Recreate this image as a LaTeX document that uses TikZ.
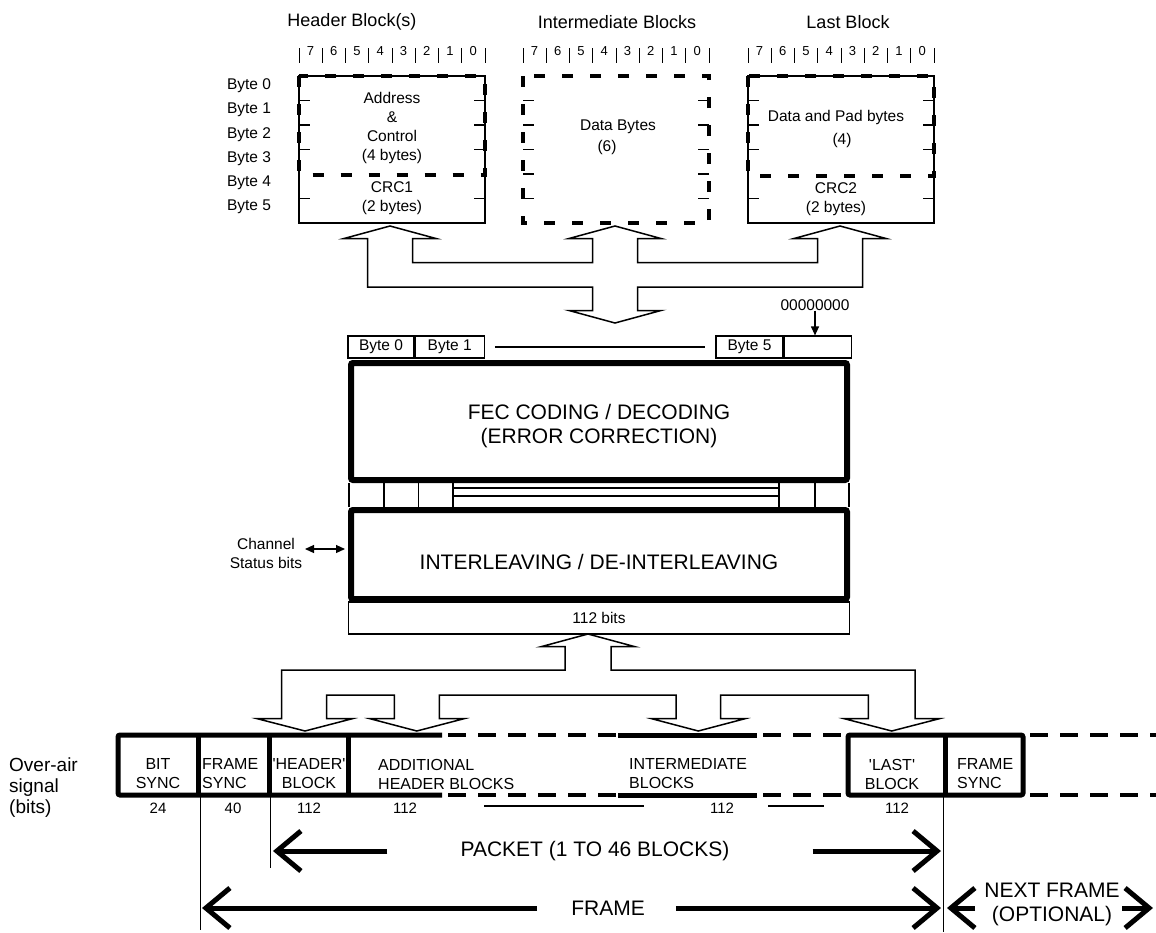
\documentclass[tikz,border=0pt]{standalone}
\usepackage{fontspec}
\setmainfont{Liberation Sans}
\usetikzlibrary{arrows.meta}
\begin{document}
\begin{tikzpicture}[x=1pt,y=-1pt,>={Triangle[length=9pt,width=8pt]},
  every node/.style={font=\fontsize{15.5}{19}\selectfont,inner sep=0pt},
  title/.style={font=\fontsize{18}{22}\selectfont},
  bitno/.style={font=\fontsize{13}{15}\selectfont},
  numlbl/.style={font=\fontsize{15}{17}\selectfont},
  sigtxt/.style={font=\fontsize{16}{19}\selectfont},
  bignote/.style={font=\fontsize{21}{24}\selectfont,align=center},
  cell/.style={draw,line width=1.2pt,minimum height=22pt},
  heavybox/.style={draw,line width=6pt,rounded corners=2pt},
  fine/.style={line width=1.2pt},
  bus/.style={line width=1.5pt,line join=miter},
  dashbold/.style={line width=4pt,dash pattern=on 11pt off 17pt},
  sigline/.style={line width=5pt,rounded corners=2pt},
  sigdash/.style={line width=4.5pt,dash pattern=on 18pt off 12pt},
  span/.style={line width=5pt,>={Straight Barb[length=24pt,width=40pt]}}]
\useasboundingbox (0,0) rectangle (1156,932);

% block titles and bit numbers
\node[title] (hbttl) at (352,22) {Header Block(s)};
\node[title] (ibttl) at (617,22) {Intermediate Blocks};
\node[title] (lbttl) at (848,22) {Last Block};
\foreach \bx/\nm in {299/hb,523/ib,748/lb}{
  \foreach \i in {0,...,7}{
    \pgfmathtruncatemacro\bit{7-\i}
    \node[bitno] (\nm-bit\i) at ({\bx+11.6+23.25*\i},51) {\bit};
  }
  \foreach \i in {0,...,8}
    \draw[line width=1pt] ({\bx+23.25*\i},48) -- ++(0,15);
}

% byte numbers
\foreach \k in {0,...,5}
  \node (byte\k) at (249,{86+24.1*\k}) {Byte \k};

% header block
\draw[fine] (299,76) rectangle (485,223);
\draw[dashbold] (299,76) rectangle (485,174.5);
\foreach \y in {100.5,125,149.5,198.5}{
  \draw[fine] (299,\y) -- ++(11,0);
  \draw[fine] (485,\y) -- ++(-11,0);
}
\node[align=center] (addr) at (392,128) {Address\\\&\\Control\\(4 bytes)};
\node[align=center] (crc1) at (392,198) {CRC1\\(2 bytes)};

% intermediate block
\draw[dashbold] (523,76) rectangle (709,223);
\foreach \y in {100.5,125,149.5,174,198.5}{
  \draw[fine] (523,\y) -- ++(11,0);
  \draw[fine] (709,\y) -- ++(-11,0);
}
\node (data) at (618,127) {Data Bytes};
\node (six) at (607,147) {(6)};

% last block
\draw[fine] (748,76) rectangle (934,223);
\draw[dashbold] (748,76) rectangle (934,176);
\foreach \y in {100.5,125,149.5,198.5}{
  \draw[fine] (748,\y) -- ++(11,0);
  \draw[fine] (934,\y) -- ++(-11,0);
}
\node (pad) at (836,117) {Data and Pad bytes};
\node (four) at (842,140) {(4)};
\node[align=center] (crc2) at (836,199.5) {CRC2\\(2 bytes)};

% upper bus
\draw[bus] (592.5,310.5) -- (592.5,287) -- (367.5,287) -- (367.5,238.5)
  -- (344,238.5) -- (390,226) -- (436,238.5) -- (412.5,238.5) -- (412.5,262.5)
  -- (592.5,262.5) -- (592.5,238.5) -- (569,238.5) -- (615,226) -- (661,238.5)
  -- (637.5,238.5) -- (637.5,262.5) -- (817.5,262.5) -- (817.5,238.5)
  -- (794,238.5) -- (840,226) -- (886,238.5) -- (862.5,238.5) -- (862.5,287)
  -- (637.5,287) -- (637.5,310.5) -- (661,310.5) -- (615,323) -- (569,310.5)
  -- cycle;

% byte row
\node[cell,minimum width=66pt] (b0) at (381,347) {Byte 0};
\node[cell,minimum width=69pt,anchor=west] (b1) at (b0.east) {Byte 1};
\node[cell,minimum width=67pt] (b5) at (749.5,347) {Byte 5};
\node[cell,minimum width=67pt,anchor=west] (bpad) at (b5.east) {};
\draw[fine] ([xshift=10pt]b1.east) -- ([xshift=-10pt]b5.west);
\node (zeros) at (815,305) {00000000};
\draw[fine,->] (zeros.south) -- (zeros.south |- bpad.north);

% 112 bits, FEC and interleaver
\node[cell,minimum width=501pt,minimum height=32pt] (bits) at (599,618) {112 bits};
\node[heavybox,minimum width=496pt,minimum height=117pt] (fec) at (599,421.5) {};
\node[bignote] (fectxt) at (599,426.5) {FEC CODING / DECODING\\(ERROR CORRECTION)};
\node[heavybox,minimum width=496pt,minimum height=89pt] (ilv) at (599,554.5) {};
\node[bignote] (ilvtxt) at (599,562) {INTERLEAVING / DE-INTERLEAVING};
\foreach \x in {349,384,418.5,453,779,815,849}
  \draw[fine] (\x,483) -- (\x,507);
\draw[fine] (453,488) -- (779,488);
\draw[fine] (453,496) -- (779,496);

% channel status
\node[align=center] (chan) at (266,553) {Channel\\Status bits};
\coordinate (chanend) at (305,549);
\draw[fine,<->] (chanend) -- ([xshift=-3pt]chanend -| ilv.west);

% lower bus
\draw[bus] (565,670) -- (281.7,670) -- (281.7,718.7) -- (257.3,718.7)
  -- (305,731) -- (352.3,718.7) -- (326.7,718.7) -- (326.7,695) -- (394.3,695)
  -- (394.3,718.7) -- (370,718.7) -- (416.8,731) -- (464,718.7) -- (439.3,718.7)
  -- (439.3,695) -- (676,695) -- (676,718.7) -- (651.7,718.7) -- (698.3,731)
  -- (745,718.7) -- (720.7,718.7) -- (720.7,695) -- (868.3,695) -- (868.3,718.7)
  -- (844.3,718.7) -- (891.7,731) -- (939.3,718.7) -- (915,718.7) -- (915,670)
  -- (611,670) -- (611,646.7) -- (635,646.7) -- (588,634) -- (541,646.7)
  -- (565,646.7) -- cycle;

% over-air signal
\node[font=\fontsize{19}{21}\selectfont,align=left,anchor=west] (air) at (9,788)
  {Over-air\\signal\\(bits)};
\draw[sigline] (442,735) -- (118,735) -- (118,795) -- (442,795);
\foreach \x in {198,269,348}
  \draw[sigline] (\x,735) -- (\x,795);
\draw[sigline] (848,735) rectangle (1023,795);
\draw[sigline] (945,735) -- (945,795);
\foreach \y in {735,795}{
  \draw[sigdash] (448,\y) -- (618,\y);
  \draw[sigline] (618,\y) -- (757,\y);
  \draw[sigdash] (763,\y) -- (848,\y);
  \draw[sigdash] (1030,\y) -- (1156,\y);
}
\node[sigtxt,align=center] (bsync) at (158,774) {BIT\\SYNC};
\node[sigtxt,align=left,anchor=west] (fsync) at (202,774) {FRAME\\SYNC};
\node[sigtxt,align=center] (hdr) at (309,774) {\textquotesingle HEADER\textquotesingle\\BLOCK};
\node[sigtxt,align=left,anchor=west] (addhdr) at (378,774) {ADDITIONAL\\HEADER BLOCKS};
\node[sigtxt,align=left,anchor=west] (inter) at (629,774) {INTERMEDIATE\\BLOCKS};
\node[sigtxt,align=center] (last) at (892,774) {\textquotesingle LAST\textquotesingle\\BLOCK};
\node[sigtxt,align=left,anchor=west] (fsync2) at (957,774) {FRAME\\SYNC};

% bit counts
\node[numlbl] (n24) at (158,808) {24};
\node[numlbl] (n40) at (233,808) {40};
\node[numlbl] (n112a) at (309,808) {112};
\node[numlbl] (n112b) at (405,808) {112};
\node[numlbl] (n112c) at (722,808) {112};
\node[numlbl] (n112d) at (897,808) {112};
\draw[fine] (484,806) -- (644,806);
\draw[fine] (768,806) -- (824,806);

% packet and frame extents
\draw[line width=1pt] (200,797) -- (200,930);
\draw[line width=1pt] (270,797) -- (270,868);
\draw[line width=1pt] (943,797) -- (943,932);
\node[bignote] (pkt) at (595,851) {PACKET (1 TO 46 BLOCKS)};
\coordinate (pktL) at (273,851);
\coordinate (pktR) at (941,851);
\draw[span,->] ([xshift=-73pt]pkt.west) -- (pktL);
\draw[span,->] ([xshift=83pt]pkt.east) -- (pktR);
\node[bignote] (frm) at (608,908) {FRAME};
\coordinate (frmL) at (202,908);
\coordinate (frmR) at (941,908);
\draw[span,->] ([xshift=-34pt]frm.west) -- (frmL);
\draw[span,->] ([xshift=31pt]frm.east) -- (frmR);
\node[bignote] (nxt) at (1052,904) {NEXT FRAME\\(OPTIONAL)};
\coordinate (nxtL) at (947,908);
\coordinate (nxtR) at (1153,908);
\draw[span,->] (975,908) -- (nxtL);
\draw[span,->] (1122,908) -- (nxtR);
\end{tikzpicture}
\end{document}
